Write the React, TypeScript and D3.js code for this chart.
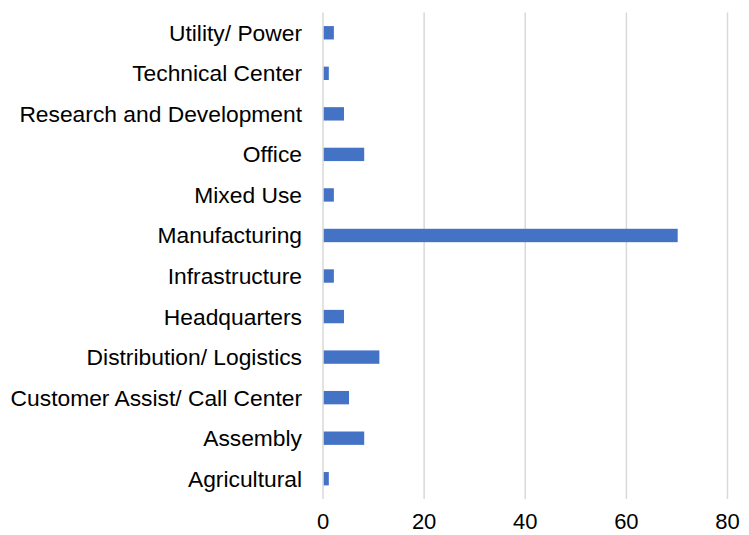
import React from "react";
import * as d3 from "d3";

const categories = [
  "Utility/ Power",
  "Technical Center",
  "Research and Development",
  "Office",
  "Mixed Use",
  "Manufacturing",
  "Infrastructure",
  "Headquarters",
  "Distribution/ Logistics",
  "Customer Assist/ Call Center",
  "Assembly",
  "Agricultural",
];
const values = [2, 1, 4, 8, 2, 70, 2, 4, 11, 5, 8, 1];
const xTicks = [0, 20, 40, 60, 80];

const W = 749;
const H = 535;
const left = 323;
const right = 727.5;
const top = 12.5;
const bottom = 499;

export default function App() {
  const x = d3.scaleLinear().domain([0, 80]).range([left, right]);
  const y = d3.scaleBand().domain(categories).range([top, bottom]).paddingInner(0.67).paddingOuter(0.335);
  return (
    <svg width={W} height={H} style={{ position: "absolute", left: 0, top: 0 }} fontFamily="'Liberation Sans', Arial, sans-serif">
      <rect width={W} height={H} fill="#fff" />
      {xTicks.map((t) => (
        <line key={t} x1={x(t)} x2={x(t)} y1={top} y2={bottom} stroke="#d9d9d9" strokeWidth={1.5} />
      ))}
      {categories.map((c, i) => (
        <rect key={c} x={x(0) + 0.75} y={y(c)} width={x(values[i]) - x(0)} height={y.bandwidth()} fill="#4472C4" />
      ))}
      {categories.map((c) => (
        <text key={c} x={302} y={(y(c) ?? 0) + y.bandwidth() / 2} dy="0.35em" textAnchor="end" fontSize={22.8} fill="#000">
          {c}
        </text>
      ))}
      {xTicks.map((t) => (
        <text key={t} x={x(t)} y={529} textAnchor="middle" fontSize={22} fill="#000">
          {t}
        </text>
      ))}
    </svg>
  );
}
